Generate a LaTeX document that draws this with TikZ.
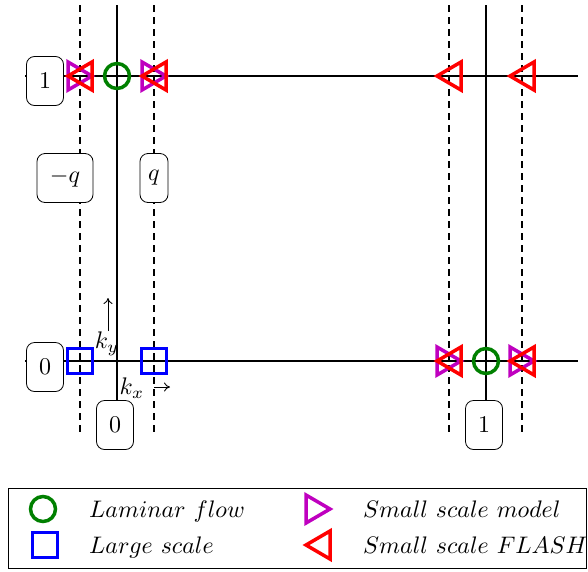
\documentclass[tikz,border=0pt]{standalone}
\usepackage{graphicx}
\usetikzlibrary{arrows.meta}
\definecolor{lamgreen}{rgb}{0,0.5,0}
\definecolor{modelmag}{rgb}{0.75,0,0.75}
% math set at 10pt and enlarged to the picture's text size
\newcommand{\bigmath}[1]{\scalebox{2.4}{$#1$}}
\newcommand{\legmath}[1]{\scalebox{2.39}{$#1$}}
\begin{document}
\begin{tikzpicture}[x=1pt,y=-1pt,
  axis/.style={line width=2.6pt},
  guide/.style={line width=2.6pt,dash pattern=on 7pt off 5pt},
  lab/.style={draw,fill=white,rounded corners=8pt,line width=0.8pt,inner sep=0pt,
    minimum height=49pt},
  kar/.style={-{To[length=6pt,width=9pt]},line width=0.9pt},
  ktxt/.style={inner sep=0pt},
  legtxt/.style={anchor=base west,inner sep=0pt},
  lam/.pic={\draw[lamgreen,line width=3.5pt] (0,0) circle (12.5);},
  big/.pic={\draw[blue,line width=3.5pt] (-12.5,-12.5) rectangle (12.5,12.5);},
  smod/.pic={\draw[modelmag,line width=3.5pt,line join=miter] (-12,-14) -- (12,0) -- (-12,14) -- cycle;},
  sfl/.pic={\draw[red,line width=3.5pt,line join=miter] (12,-14) -- (-12,0) -- (12,14) -- cycle;}
]
\useasboundingbox (0,0) rectangle (588,571);

% end points of the grid lines
\coordinate (topL) at (25,76);   \coordinate (topR) at (578,76);
\coordinate (botL) at (25,361);  \coordinate (botR) at (578,361);
\coordinate (v0a) at (117,5);    \coordinate (v1a) at (486,5);
\foreach \x/\n in {80/dA,154/dB,449/dC,522/dD}{
  \coordinate (\n t) at (\x,5);
  \coordinate (\n b) at (\x,433);
}

% dashed guides
\foreach \n in {dA,dB,dC,dD}{\draw[guide] (\n t) -- (\n b);}

% value labels
\node[lab,minimum width=37pt] (y1) at (45,81) {\bigmath{1}};
\node[lab,minimum width=37pt] (y0) at (45,367) {\bigmath{0}};
\node[lab,minimum width=56pt] (mq) at (65,178) {\bigmath{-q}};
\node[lab,minimum width=28pt] (pq) at (154,178) {\bigmath{q}};
\node[lab,minimum width=37pt] (x0) at (115,425) {\bigmath{0}};
\node[lab,minimum width=37pt] (x1) at (484,425) {\bigmath{1}};

% solid axes
\draw[axis] (v0a) -- (x0.north -| v0a);
\draw[axis] (v1a) -- (x1.north -| v1a);
\draw[axis] (topL) -- (y1.west |- topL);
\draw[axis] (y1.east |- topL) -- (topR);
\draw[axis] (botL) -- (y0.west |- botL);
\draw[axis] (y0.east |- botL) -- (botR);

% wavenumber directions
\coordinate (kyA) at (108,331); \coordinate (kyB) at (108,298);
\draw[kar] (kyA) -- (kyB);
\node[ktxt] (ky) at (107,344) {\bigmath{k_y}};
\coordinate (kxA) at (154,387); \coordinate (kxB) at (170,387);
\draw[kar] (kxA) -- (kxB);
\node[ktxt] (kx) at (132,388) {\bigmath{k_x}};

% markers on the top line
\pic at (80,76) {smod};  \pic at (80,76) {sfl};
\pic at (117,76) {lam};
\pic at (154,76) {smod}; \pic at (154,76) {sfl};
\pic at (449,76) {sfl};
\pic at (522,76) {sfl};

% markers on the bottom line
\pic at (80,361) {big};
\pic at (154,361) {big};
\pic at (449,361) {smod}; \pic at (449,361) {sfl};
\pic at (486,361) {lam};
\pic at (522,361) {smod}; \pic at (522,361) {sfl};

% legend
\node[draw,line width=1pt,minimum width=578pt,minimum height=80pt,inner sep=0pt] (leg) at (297,528) {};
\pic at (43,509) {lam};
\node[legtxt] (l1) at (89,517) {\legmath{Laminar\ flow}};
\pic at (45,545) {big};
\node[legtxt] (l2) at (89,553) {\legmath{Large\ scale}};
\pic at (318,509) {smod};
\node[legtxt] (l3) at (363,517) {\legmath{Small\ scale\ model}};
\pic at (318,545) {sfl};
\node[legtxt] (l4) at (363,553) {\legmath{Small\ scale\ FLASH}};
\end{tikzpicture}
\end{document}
